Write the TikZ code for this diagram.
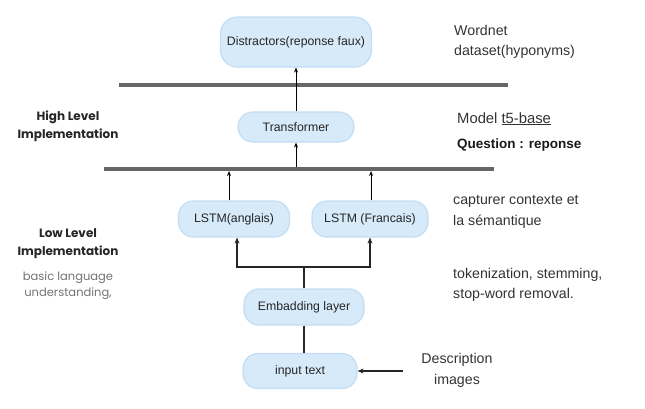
\documentclass[tikz,border=0pt]{standalone}
\usepackage{fontspec}
\setmainfont{Liberation Sans}
\newfontfamily\lsans{Poppins}
\usetikzlibrary{arrows.meta}
\definecolor{boxfill}{HTML}{D6EAFA}
\definecolor{boxdraw}{HTML}{C2DDF4}
\definecolor{barcol}{HTML}{666666}
\definecolor{txt}{HTML}{333333}
\tikzset{
  pill/.style={draw=boxdraw, line width=1.2pt, fill=boxfill, rounded corners=15pt,
    minimum height=#1, inner sep=0pt, text=black!85, font=\fontsize{12.3}{14}\selectfont},
  pill/.default=36pt,
  bar/.style={draw=barcol, line width=4pt},
  thin/.style={draw=black, line width=1pt, -{Stealth[length=5pt,width=4pt]}},
  thick/.style={draw=black!85, line width=1.8pt},
  thickarr/.style={draw=black!85, line width=1.8pt, -{Stealth[length=6pt,width=5pt]}},
  side/.style={text=txt, font=\fontsize{14.2}{20}\selectfont, align=left, inner sep=0pt},
  lefthead/.style={text=black!85, font=\lsans\bfseries\fontsize{12}{18}\selectfont, align=center, inner sep=0pt},
}
\begin{document}
\begin{tikzpicture}[x=1pt,y=-1pt]
\useasboundingbox (0,0) rectangle (645,408);
% boxes
\node[pill=50pt, minimum width=151pt, rounded corners=17pt] (dis) at (296,42) {Distractors(reponse faux)};
\node[pill=30pt, minimum width=116pt] (tr) at (296,127) {Transformer};
\node[pill=36pt, minimum width=111pt] (la) at (234,219) {LSTM(anglais)};
\node[pill=36pt, minimum width=116pt] (lf) at (370,219) {LSTM (Francais)};
\node[pill=36pt, minimum width=120pt] (emb) at (304,307) {Embadding layer};
\node[pill=35pt, minimum width=114pt] (inp) at (300,371) {input text};
% bars
\coordinate (b1l) at (119,85); \coordinate (b1r) at (508,85);
\coordinate (b2l) at (104,169); \coordinate (b2r) at (494,169);
\draw[bar] (b1l) -- (b1r);
\draw[bar] (b2l) -- (b2r);
% arrows
\draw[thin] (tr.north) -- (dis.south);
\coordinate (trin) at (296,167);
\draw[thin] (trin) -- (tr.south);
\coordinate (laup) at (229,171);
\coordinate (lfup) at (371,171);
\draw[thin] (la.north -| laup) -- (laup);
\draw[thin] (lf.north -| lfup) -- (lfup);
% fork
\coordinate (fk) at (304,267);
\coordinate (fkl) at (237,267);
\coordinate (fkr) at (370,267);
\draw[thick] (emb.north) -- (fk);
\draw[thickarr] (fk) -- (fkl) -- (la.south -| fkl);
\draw[thickarr] (fk) -- (fkr) -- (lf.south -| fkr);
\draw[thick] (emb.south) -- (emb.south |- inp.north);
\coordinate (dsrc) at (403,371);
\draw[thickarr] (dsrc) -- (inp.east);
% side texts
\node[side, anchor=west] (wn) at (454,42) {Wordnet\\dataset(hyponyms)};
\node[side, anchor=base west, font=\fontsize{14.8}{18}\selectfont] (mdl) at (457,123) {Model \underline{t5-base}};
\node[side, anchor=base west, font=\bfseries\fontsize{13.5}{18}\selectfont, text=black!90] (qr) at (457,148) {Question : reponse};
\node[side, anchor=west, font=\fontsize{14.2}{21}\selectfont] (cc) at (453,211.5) {capturer contexte et\\la sémantique};
\node[side, anchor=west] (tok) at (453,285) {tokenization, stemming,\\stop-word removal.};
\node[side, align=center, font=\fontsize{14.2}{21}\selectfont] (desc) at (457,370) {Description\\images};
% left texts
\node[lefthead] (hl) at (68,126) {High Level\\Implementation};
\node[lefthead] (ll) at (68,244) {Low Level\\Implementation};
\node[align=center, inner sep=0pt, text=black!55, font=\lsans\fontsize{11.5}{16}\selectfont] (bl) at (68,286) {basic language\\understanding,};
\end{tikzpicture}
\end{document}
